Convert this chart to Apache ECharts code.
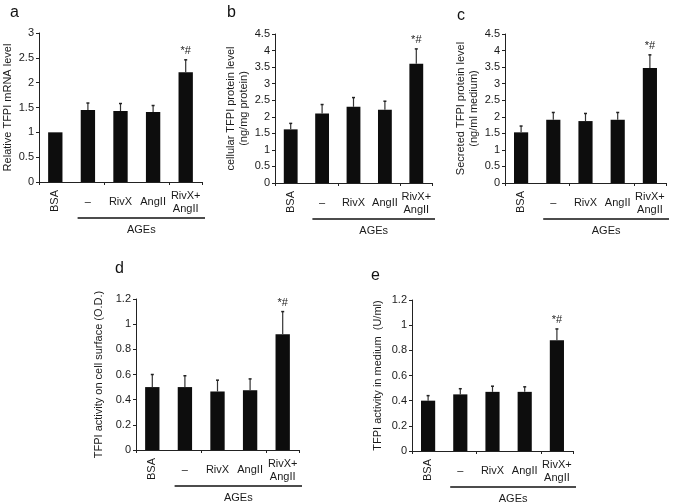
<!DOCTYPE html>
<html>
<head>
<meta charset="utf-8">
<script src="https://cdn.jsdelivr.net/npm/echarts@6/dist/echarts.min.js"></script>
<style>
  html, body { margin: 0; padding: 0; background: #fff; }
  #chart { width: 675px; height: 503px; }
</style>
</head>
<body>
<div id="chart"></div>
<script>
// ---------- data ----------
const categories = ["BSA", "–", "RivX", "AngII", "RivX+\nAngII"];
const rotatedLabel = [true, false, false, false, false];
const groupLabel = "AGEs";
const annotations = ["", "", "", "", "*#"];

const mrnaMean   = [1.00, 1.45, 1.43, 1.41, 2.21];
const mrnaErrTop = [1.00, 1.59, 1.58, 1.54, 2.46];

const cellMean   = [1.62, 2.10, 2.30, 2.21, 3.60];
const cellErrTop = [1.80, 2.37, 2.58, 2.47, 4.05];

const secMean    = [1.53, 1.91, 1.87, 1.91, 3.47];
const secErrTop  = [1.72, 2.13, 2.10, 2.13, 3.87];

const surfMean   = [0.50, 0.50, 0.465, 0.475, 0.92];
const surfErrTop = [0.60, 0.59, 0.555, 0.565, 1.10];

const medMean    = [0.40, 0.45, 0.47, 0.47, 0.88];
const medErrTop  = [0.44, 0.495, 0.515, 0.51, 0.97];

const panelLetters = ["a", "b", "c", "d", "e"];
const yTitles = [
  "Relative TFPI mRNA level",
  "cellular TFPI protein level\n(ng/mg protein)",
  "Secreted TFPI protein level\n(ng/ml medium)",
  "TFPI activity on cell surface (O.D.)",
  "TFPI activity in medium  (U/ml)"
];
const yMax = [3, 4.5, 4.5, 1.2, 1.2];
const yInterval = [0.5, 0.5, 0.5, 0.2, 0.2];

// ---------- layout ----------
const FONT = "Liberation Sans, Arial, sans-serif";
const TXT = "#1a1a1a";
const grids = [
  { left: 39,  top: 33,  width: 163, height: 149 },
  { left: 275, top: 34,  width: 157, height: 149 },
  { left: 505, top: 34,  width: 161, height: 149 },
  { left: 136, top: 299, width: 163, height: 151 },
  { left: 412, top: 300, width: 161, height: 151 }
];
const nameGaps = [21, 17, 18, 31, 28];
const letterPos = [[5, 0], [222, 0], [452, 3], [110, 256], [366, 263]];

const means = [mrnaMean, cellMean, secMean, surfMean, medMean];
const errs = [mrnaErrTop, cellErrTop, secErrTop, surfErrTop, medErrTop];

const xAxes = [], yAxes = [], series = [], titles = [];

for (let p = 0; p < 5; p++) {
  xAxes.push({
    type: 'category', gridIndex: p, data: categories,
    axisLine: { lineStyle: { color: '#222', width: 1 } },
    axisTick: { show: true, length: 3, lineStyle: { color: '#222' } },
    axisLabel: { show: false }
  });
  yAxes.push({
    type: 'value', gridIndex: p, min: 0, max: yMax[p], interval: yInterval[p],
    splitLine: { show: false },
    axisLine: { show: true, lineStyle: { color: '#222', width: 1 } },
    axisTick: { show: true, length: 3, lineStyle: { color: '#222' } },
    axisLabel: { color: TXT, fontFamily: FONT, fontSize: 11, margin: 5 },
    name: yTitles[p], nameLocation: 'middle', nameGap: nameGaps[p],
    nameTextStyle: { color: TXT, fontFamily: FONT, fontSize: 11, lineHeight: 13 }
  });
  titles.push({
    text: panelLetters[p], left: letterPos[p][0], top: letterPos[p][1],
    textStyle: { fontFamily: FONT, fontSize: 16, fontWeight: 'normal', color: '#111' }
  });

  const m = means[p], e = errs[p];
  series.push({
    type: 'bar', xAxisIndex: p, yAxisIndex: p,
    data: m, barWidth: '44%',
    itemStyle: { color: '#0d0d0d' }, silent: true
  });
  // error bars (upward) + significance annotations
  series.push({
    type: 'custom', xAxisIndex: p, yAxisIndex: p, silent: true, clip: false, z: 3,
    data: m.map((v, i) => [i, v, e[i]]),
    renderItem: function (params, api) {
      const i = api.value(0);
      const top = api.coord([i, api.value(1)]);
      const et = api.coord([i, api.value(2)]);
      const children = [];
      if (api.value(2) > api.value(1)) {
        children.push({ type: 'line', shape: { x1: top[0], y1: top[1], x2: et[0], y2: et[1] },
          style: { stroke: '#333', lineWidth: 1.2 } });
        children.push({ type: 'line', shape: { x1: et[0] - 1.5, y1: et[1], x2: et[0] + 1.5, y2: et[1] },
          style: { stroke: '#222', lineWidth: 1.5 } });
      }
      const a = annotations[params.dataIndex];
      if (a) {
        children.push({ type: 'text', x: et[0], y: et[1] - 3,
          style: { text: a, fill: '#222', font: '11px ' + FONT, align: 'center', verticalAlign: 'bottom' } });
      }
      return { type: 'group', children: children };
    }
  });
  // category labels drawn at category positions
  series.push({
    type: 'custom', xAxisIndex: p, yAxisIndex: p, silent: true, clip: false,
    data: categories.map((c, i) => [i, 0]),
    renderItem: function (params, api) {
      const i = api.value(0);
      const pt = api.coord([i, 0]);
      const rot = rotatedLabel[i];
      const label = categories[i];
      if (rot) {
        return { type: 'text', x: pt[0], y: pt[1] + 19, rotation: Math.PI / 2,
          style: { text: label, fill: TXT, font: '11px ' + FONT, align: 'center', verticalAlign: 'middle' } };
      }
      return { type: 'text', x: pt[0], y: pt[1] + 20,
        style: { text: label, fill: TXT, font: '11px ' + FONT, align: 'center', verticalAlign: 'middle', lineHeight: 13 } };
    }
  });
  // group bracket "AGEs"
  series.push({
    type: 'custom', xAxisIndex: p, yAxisIndex: p, silent: true, clip: false,
    data: [[1, 0, 4]],
    renderItem: function (params, api) {
      const a = api.coord([api.value(0), 0]);
      const b = api.coord([api.value(2), 0]);
      const w = api.size([1, 0])[0];
      const x1 = a[0] - w / 2 + 6, x2 = b[0] + w / 2 + 3;
      const y = a[1] + 36;
      return { type: 'group', children: [
        { type: 'line', shape: { x1: x1, y1: y, x2: x2, y2: y }, style: { stroke: '#111', lineWidth: 1.3 } },
        { type: 'text', x: (x1 + x2) / 2, y: y + 12,
          style: { text: groupLabel, fill: TXT, font: '11px ' + FONT, align: 'center', verticalAlign: 'middle' } }
      ] };
    }
  });
}

const chart = echarts.init(document.getElementById('chart'), null, { renderer: 'canvas' });
chart.setOption({
  animation: false,
  backgroundColor: '#fff',
  textStyle: { fontFamily: FONT },
  title: titles,
  grid: grids,
  xAxis: xAxes,
  yAxis: yAxes,
  series: series
});
</script>
</body>
</html>
